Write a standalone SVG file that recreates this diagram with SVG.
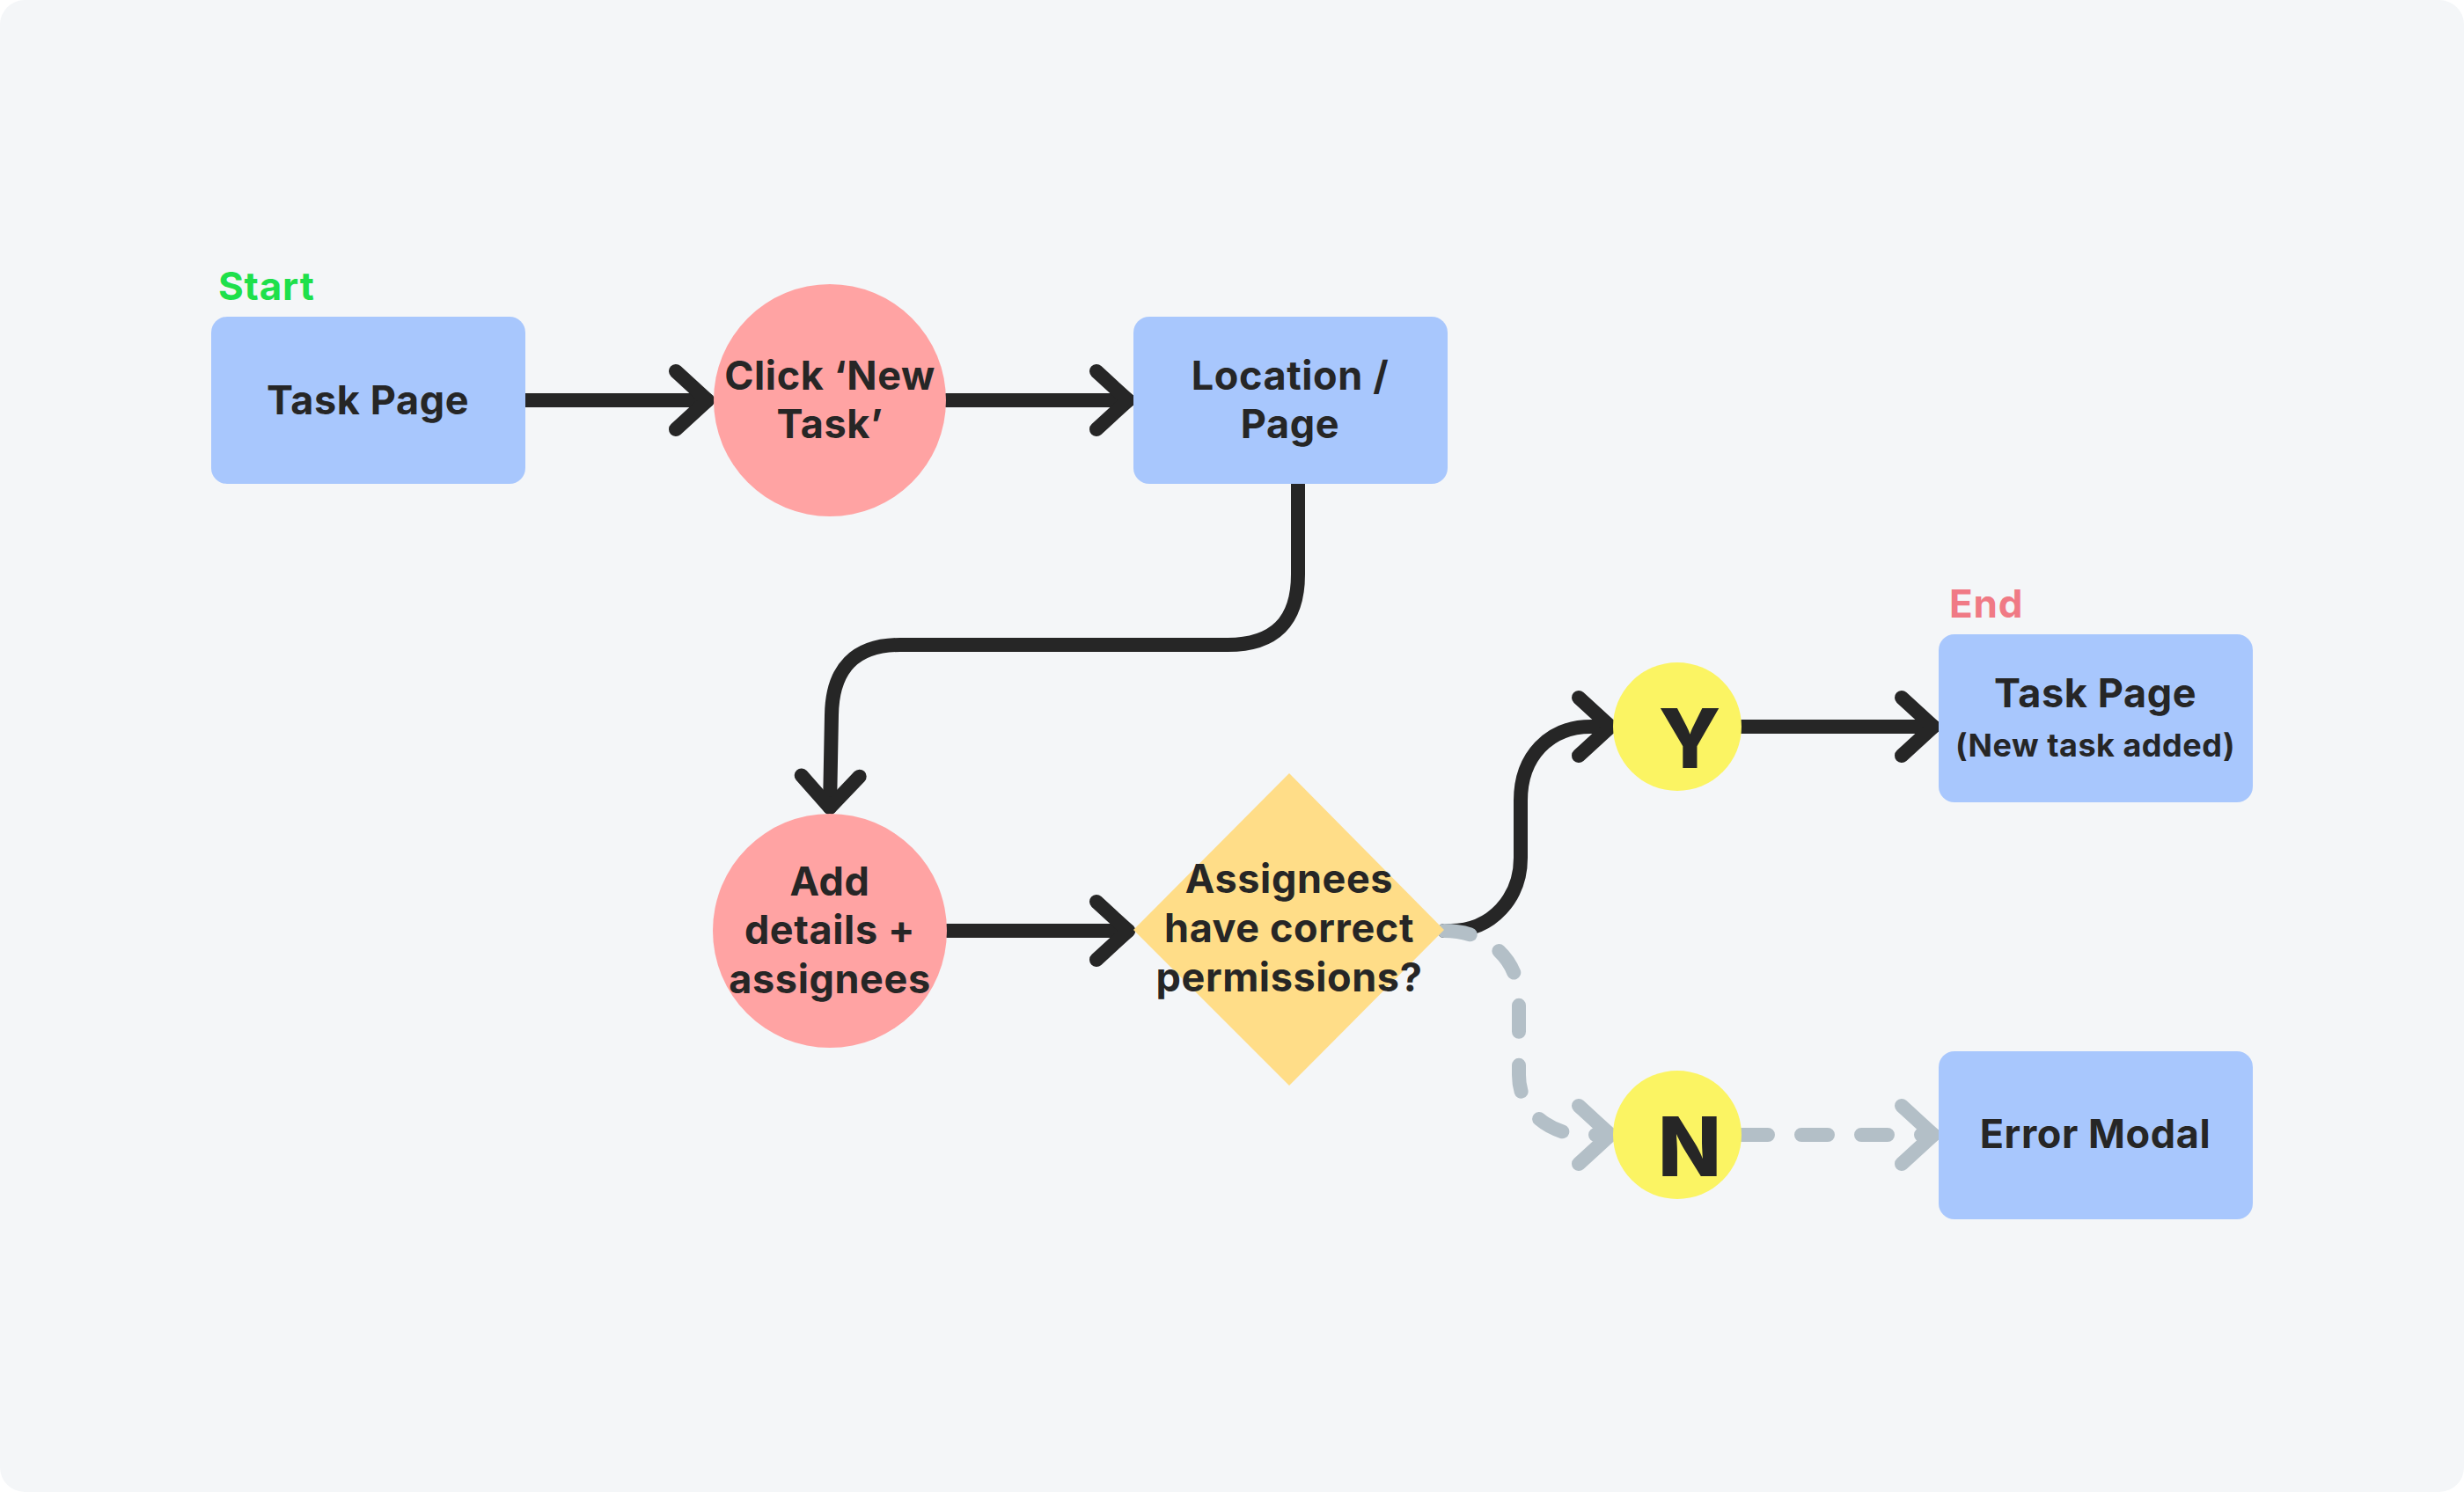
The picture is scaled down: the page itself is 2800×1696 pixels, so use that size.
<svg xmlns="http://www.w3.org/2000/svg" width="2800" height="1696" viewBox="0 0 2800 1696">
<style>
.box{fill:#a8c7fd}
.pink{fill:#ffa3a3}
.dia{fill:#ffdd88}
.yel{fill:#fbf463}
.t{font-family:Inter,"Noto Sans",sans-serif;font-weight:700;font-size:45px;letter-spacing:0.6px;fill:#262626;text-anchor:middle}
.big{font-family:Inter,"Noto Sans",sans-serif;font-weight:800;font-size:94px;fill:#262626;text-anchor:middle}
.sub{font-size:36px;letter-spacing:0.5px}
.lbl{font-family:Inter,"Noto Sans",sans-serif;font-weight:700;font-size:44px;letter-spacing:0.8px}
.solid{fill:none;stroke:#262626;stroke-width:16;stroke-linecap:round;stroke-linejoin:round}
.dash{fill:none;stroke:#b3bfc7;stroke-width:16;stroke-linecap:round;stroke-linejoin:round;stroke-dasharray:30 38}
</style>
<defs>
<marker id="ah" markerUnits="userSpaceOnUse" markerWidth="10" markerHeight="10" orient="auto" overflow="visible" refX="0" refY="0">
<path d="M-36,-33 L0,0 L-36,33" fill="none" stroke="#262626" stroke-width="16" stroke-linecap="round" stroke-linejoin="round"/>
</marker>
<marker id="ahg" markerUnits="userSpaceOnUse" markerWidth="10" markerHeight="10" orient="auto" overflow="visible" refX="0" refY="0">
<path d="M-36,-33 L0,0 L-36,33" fill="none" stroke="#b3bfc7" stroke-width="16" stroke-linecap="round" stroke-linejoin="round"/>
</marker>
</defs>
<rect x="0" y="0" width="2800" height="1696" fill="#ffffff"/>
<rect x="0" y="0" width="2800" height="1696" rx="28" fill="#f4f6f8"/>
<g id="connectors">
<path class="solid" d="M597 455 L804 455" marker-end="url(#ah)"/>
<path class="solid" d="M1075 455 L1282 455" marker-end="url(#ah)"/>
<path class="solid" d="M1475 550 L1475 653 Q1475 733 1395 733 L1023 733 Q946 733 945 813 L943 918" marker-end="url(#ah)"/>
<path class="solid" d="M1076 1058 L1282 1058" marker-end="url(#ah)"/>
<path class="solid" d="M1641 1058 L1648 1058 C1696 1058 1728 1020 1728 975 L1728 910 C1728 860 1760 826 1808 826 L1830 826" marker-end="url(#ah)"/>
<path class="solid" d="M1979 826 L2197 826" marker-end="url(#ah)"/>
<path class="dash" d="M1641 1058 C1690 1058 1726 1090 1726 1135 L1726 1222 C1726 1262 1760 1290 1800 1290 L1830 1290" marker-end="url(#ahg)"/>
<path class="dash" d="M1979 1290 L2197 1290" marker-end="url(#ahg)"/>
</g>
<g id="start-label"><text class="lbl" x="248" y="341" fill="#1ee04b">Start</text></g>
<g id="task-page"><rect class="box" x="240" y="360" width="357" height="190" rx="18"/><text class="t" x="418" y="471">Task Page</text></g>
<g id="click-new-task"><circle class="pink" cx="943" cy="455" r="132"/><text class="t" x="943" y="443">Click ‘New</text><text class="t" x="943" y="498">Task’</text></g>
<g id="location-page"><rect class="box" x="1288" y="360" width="357" height="190" rx="18"/><text class="t" x="1466" y="443">Location /</text><text class="t" x="1466" y="498">Page</text></g>
<g id="add-details"><circle class="pink" cx="943" cy="1058" r="133"/><text class="t" x="943" y="1018">Add</text><text class="t" x="943" y="1073">details +</text><text class="t" x="943" y="1129">assignees</text></g>
<g id="decision"><polygon class="dia" points="1465,879 1641,1057 1465,1234 1288,1057"/><text class="t" x="1465" y="1015">Assignees</text><text class="t" x="1465" y="1071">have correct</text><text class="t" x="1465" y="1127">permissions?</text></g>
<g id="yes"><circle class="yel" cx="1906" cy="826" r="73"/><text class="big" x="1920" y="873">Y</text></g>
<g id="no"><circle class="yel" cx="1906" cy="1290" r="73"/><text class="big" x="1920" y="1337">N</text></g>
<g id="end-label"><text class="lbl" x="2215" y="702" fill="#f07a85">End</text></g>
<g id="task-page-end"><rect class="box" x="2203" y="721" width="357" height="191" rx="18"/><text class="t" x="2381" y="804">Task Page</text><text class="t sub" x="2381" y="860">(New task added)</text></g>
<g id="error-modal"><rect class="box" x="2203" y="1195" width="357" height="191" rx="18"/><text class="t" x="2381" y="1305">Error Modal</text></g>
</svg>
